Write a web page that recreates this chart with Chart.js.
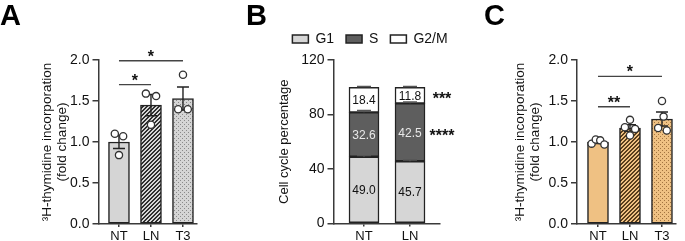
<!DOCTYPE html>
<html lang="en">
<head>
<meta charset="UTF-8">
<title>Thymidine incorporation and cell cycle</title>
<style>
    body { margin: 0; background: #fff; }
    .wrap { position: relative; width: 685px; height: 241px; overflow: hidden; }
    .wrap canvas { position: absolute; top: 0; }
    #chartA { left: 0; }
    #chartB { left: 230px; }
    #chartC { left: 460px; }
</style>
</head>
<body>
<div class="wrap">
    <canvas id="chartA" width="230" height="241"></canvas>
    <canvas id="chartB" width="230" height="241"></canvas>
    <canvas id="chartC" width="225" height="241"></canvas>
</div>
<script src="https://cdn.jsdelivr.net/npm/chart.js@4"></script>
<script>
// Panel A: 3H-thymidine, grey bars
const groupsA = ['NT', 'LN', 'T3'];
const meansA = [1.00, 1.45, 1.53];
const semA = [0.08, 0.13, 0.14];
const pointsA = [[1.10, 1.07, 0.84], [1.59, 1.56, 1.21], [1.82, 1.40, 1.40]];
const jitterA = [[-0.13, 0.13, 0], [-0.16, 0.16, 0], [0, -0.15, 0.15]];
const sigA = [{ from: 0, to: 1, y: 1.70, label: '*' }, { from: 0, to: 2, y: 1.99, label: '*' }];

// Panel B: cell cycle phases (%)
const groupsB = ['NT', 'LN'];
const phases = ['G1', 'S', 'G2/M'];
const g1 = [49.0, 45.7];
const sPhase = [32.6, 42.5];
const g2m = [18.4, 11.8];
const g1Err = [0.8, 0.9];
const sErr = [1.3, 1.1];
const g2mErr = [0.6, 0.6];
const starsB = [{ phase: 2, label: '***' }, { phase: 1, label: '****' }];

// Panel C: 3H-thymidine, orange bars
const groupsC = ['NT', 'LN', 'T3'];
const meansC = [1.00, 1.17, 1.28];
const semC = [0.02, 0.04, 0.085];
const pointsC = [[0.98, 1.03, 1.02, 0.97], [1.27, 1.18, 1.16, 1.08], [1.50, 1.31, 1.17, 1.14]];
const jitterC = [[-0.2, -0.07, 0.07, 0.2], [0, -0.16, 0.16, 0], [0, 0.05, -0.12, 0.15]];
const sigC = [{ from: 0, to: 1, y: 1.43, label: '**' }, { from: 0, to: 2, y: 1.80, label: '*' }];

const FONT = "'Liberation Sans', Arial, sans-serif";
Chart.defaults.font.family = FONT;
Chart.defaults.color = '#1a1a1a';
Chart.defaults.animation = false;
const axisColor = '#3a3a3a';
const edge = '#222';

function tilePattern(ctx, bg, fg, isHatch) {
    const c = document.createElement('canvas');
    c.width = 4; c.height = 4;
    const g = c.getContext('2d');
    g.fillStyle = bg;
    g.fillRect(0, 0, 4, 4);
    g.fillStyle = fg;
    for (let x = 0; x < 4; x++) {
        for (let y = 0; y < 4; y++) {
            const on = isHatch ? (x + y) % 4 < 2 : (x % 2 === 0 && y % 2 === 0 && (x + y) % 4 === 0);
            if (on) g.fillRect(x, y, 1, 1);
        }
    }
    return ctx.createPattern(c, 'repeat');
}

function xAxis(cats, min, max, height) {
    return {
        type: 'linear', min: min, max: max, offset: false,
        afterBuildTicks: s => { s.ticks = cats.map((c, i) => ({ value: i })); },
        afterFit: s => { s.height = height; },
        ticks: { callback: v => cats[v], font: { size: 13 }, padding: 2, color: '#111', maxRotation: 0, autoSkip: false },
        grid: { offset: false, drawOnChartArea: false, drawTicks: true, tickLength: 3, color: axisColor, lineWidth: 1.5 },
        border: { color: axisColor, width: 1.5 }
    };
}

function yAxis(max, step, width, title, titlePad, titleSize, fmt) {
    return {
        min: 0, max: max,
        afterFit: s => { s.width = width; },
        ticks: { stepSize: step, callback: fmt, font: { size: 14 }, padding: 3, color: '#111' },
        grid: { drawOnChartArea: false, drawTicks: true, tickLength: 6, color: axisColor, lineWidth: 1.5 },
        border: { color: axisColor, width: 1.5 },
        title: { display: true, text: title, color: '#111', font: { size: titleSize, lineHeight: 1.08 }, padding: { top: titlePad, bottom: 0 } }
    };
}

function panelLetter(letter, x) {
    return {
        id: 'letter' + letter,
        afterDraw(chart) {
            const ctx = chart.ctx;
            ctx.save();
            ctx.font = 'bold 29px ' + FONT;
            ctx.fillStyle = '#000';
            ctx.textAlign = 'left';
            ctx.textBaseline = 'alphabetic';
            ctx.fillText(letter, x, 25);
            ctx.restore();
        }
    };
}

function barExtras(means, sem, sig) {
    return {
        id: 'barExtras',
        afterDatasetDraw(chart, args) {
            if (args.index !== 0) return;
            const { ctx, scales: { x, y } } = chart;
            ctx.save();
            ctx.strokeStyle = edge;
            ctx.lineWidth = 1.4;
            means.forEach((m, i) => {
                const cx = x.getPixelForValue(i);
                const top = y.getPixelForValue(m + sem[i]);
                const bot = y.getPixelForValue(m - sem[i]);
                ctx.beginPath();
                ctx.moveTo(cx, top); ctx.lineTo(cx, bot);
                ctx.moveTo(cx - 6, top); ctx.lineTo(cx + 6, top);
                ctx.moveTo(cx - 6, bot); ctx.lineTo(cx + 6, bot);
                ctx.stroke();
            });
            ctx.restore();
        },
        afterDraw(chart) {
            const { ctx, scales: { x, y } } = chart;
            ctx.save();
            ctx.strokeStyle = '#444';
            ctx.lineWidth = 1.4;
            ctx.fillStyle = '#111';
            ctx.font = 'bold 16px ' + FONT;
            ctx.textAlign = 'center';
            ctx.textBaseline = 'alphabetic';
            sig.forEach(s => {
                const x1 = x.getPixelForValue(s.from);
                const x2 = x.getPixelForValue(s.to);
                const yy = y.getPixelForValue(s.y);
                ctx.beginPath();
                ctx.moveTo(x1, yy); ctx.lineTo(x2, yy);
                ctx.stroke();
                ctx.fillText(s.label, (x1 + x2) / 2, yy + 1);
            });
            ctx.restore();
        }
    };
}

function thymidineChart(id, cats, means, sem, points, jitter, sig, colors, layout) {
    const ctx = document.getElementById(id).getContext('2d');
    const fills = [
        colors.base,
        tilePattern(ctx, colors.base, colors.dark, true),
        tilePattern(ctx, colors.base, colors.dot, false)
    ];
    const scatter = [];
    points.forEach((grp, i) => grp.forEach((v, k) => scatter.push({ x: i + jitter[i][k], y: v })));
    return new Chart(ctx, {
        type: 'bar',
        data: {
            datasets: [
                {
                    type: 'bar', order: 2,
                    data: means.map((m, i) => ({ x: i, y: m })),
                    backgroundColor: fills, borderColor: edge, borderWidth: 1.5,
                    borderSkipped: false, barThickness: 21
                },
                {
                    type: 'scatter', order: 1, data: scatter,
                    pointRadius: 3.6, pointBackgroundColor: '#fff', pointBorderColor: '#333', pointBorderWidth: 1.3
                }
            ]
        },
        options: {
            responsive: false,
            layout: { padding: { top: 60, right: layout.padR, left: 0, bottom: 0 } },
            plugins: { legend: { display: false }, tooltip: { enabled: false } },
            scales: {
                x: xAxis(cats, layout.xMin, layout.xMax, 17),
                y: yAxis(2, 0.5, layout.yWidth, ['\u00b3H-thymidine incorporation', '(fold change)'], layout.titlePad, 13.5, v => v.toFixed(1))
            }
        },
        plugins: [barExtras(means, sem, sig), panelLetter(layout.letter, layout.letterX)]
    });
}

thymidineChart('chartA', groupsA, meansA, semA, pointsA, jitterA, sigA,
    { base: '#d5d5d5', dark: '#2e2e2e', dot: '#8a8a8a' },
    { padR: 33, xMin: -0.64, xMax: 2.438, yWidth: 98.5, titlePad: 40, letter: 'A', letterX: 0 });

thymidineChart('chartC', groupsC, meansC, semC, pointsC, jitterC, sigC,
    { base: '#efc183', dark: '#5a3e1c', dot: '#a27440' },
    { padR: 9, xMin: -0.656, xMax: 2.438, yWidth: 117, titlePad: 53, letter: 'C', letterX: 24 });

// Panel B: stacked cell cycle chart
(function () {
    const ctx = document.getElementById('chartB').getContext('2d');
    const series = [g1, sPhase, g2m];
    const errs = [g1Err, sErr, g2mErr];
    const fills = ['#d6d6d6', '#5e5e5e', '#ffffff'];
    const textColors = ['#111', '#e8e8e8', '#111'];

    const cellExtras = {
        id: 'cellExtras',
        afterLayout(chart) {
            // legend sits a little right of centre and lower than its default slot
            const lg = chart.legend;
            lg.left += 35; lg.right += 35;
            lg.top -= 4; lg.bottom -= 4;
        },
        afterDatasetsDraw(chart) {
            const { ctx, scales: { x, y } } = chart;
            ctx.save();
            // error caps at the top of each segment
            ctx.strokeStyle = '#555';
            ctx.lineWidth = 1.4;
            series.forEach((vals, d) => {
                const meta = chart.getDatasetMeta(d);
                meta.data.forEach((bar, i) => {
                    const cum = series.slice(0, d + 1).reduce((a, s) => a + s[i], 0);
                    const top = y.getPixelForValue(cum + errs[d][i]);
                    ctx.beginPath();
                    ctx.moveTo(bar.x, bar.y); ctx.lineTo(bar.x, top);
                    ctx.moveTo(bar.x - 7, top); ctx.lineTo(bar.x + 7, top);
                    ctx.stroke();
                });
            });
            // value labels inside segments
            ctx.font = '12px ' + FONT;
            ctx.textAlign = 'center';
            ctx.textBaseline = 'middle';
            series.forEach((vals, d) => {
                const meta = chart.getDatasetMeta(d);
                meta.data.forEach((bar, i) => {
                    ctx.fillStyle = textColors[d];
                    ctx.fillText(vals[i].toFixed(1), bar.x, (bar.y + bar.base) / 2 + 1);
                });
            });
            // significance stars next to LN
            ctx.font = 'bold 16px ' + FONT;
            ctx.fillStyle = '#111';
            ctx.textBaseline = 'alphabetic';
            const last = groupsB.length - 1;
            starsB.forEach(s => {
                const bar = chart.getDatasetMeta(s.phase).data[last];
                ctx.fillText(s.label, bar.x + 32, (bar.y + bar.base) / 2 + 9);
            });
            ctx.restore();
        }
    };

    new Chart(ctx, {
        type: 'bar',
        data: {
            datasets: phases.map((p, d) => ({
                label: p,
                data: series[d].map((v, i) => ({ x: i, y: v })),
                backgroundColor: fills[d], borderColor: edge, borderWidth: 1.5,
                borderSkipped: false, barThickness: 30
            }))
        },
        options: {
            responsive: false,
            layout: { padding: { top: 24, right: 20, left: 0, bottom: 0 } },
            plugins: {
                tooltip: { enabled: false },
                legend: {
                    display: true, position: 'top',
                    labels: { boxWidth: 16, boxHeight: 8, padding: 12, color: '#111', font: { size: 14 } }
                }
            },
            scales: {
                x: Object.assign(xAxis(groupsB, -0.663, 1.652, 17.5), { stacked: true }),
                y: Object.assign(yAxis(120, 40, 103.5, 'Cell cycle percentage', 47, 13, v => v), { stacked: true })
            }
        },
        plugins: [cellExtras, panelLetter('B', 16)]
    });
})();
</script>
</body>
</html>
